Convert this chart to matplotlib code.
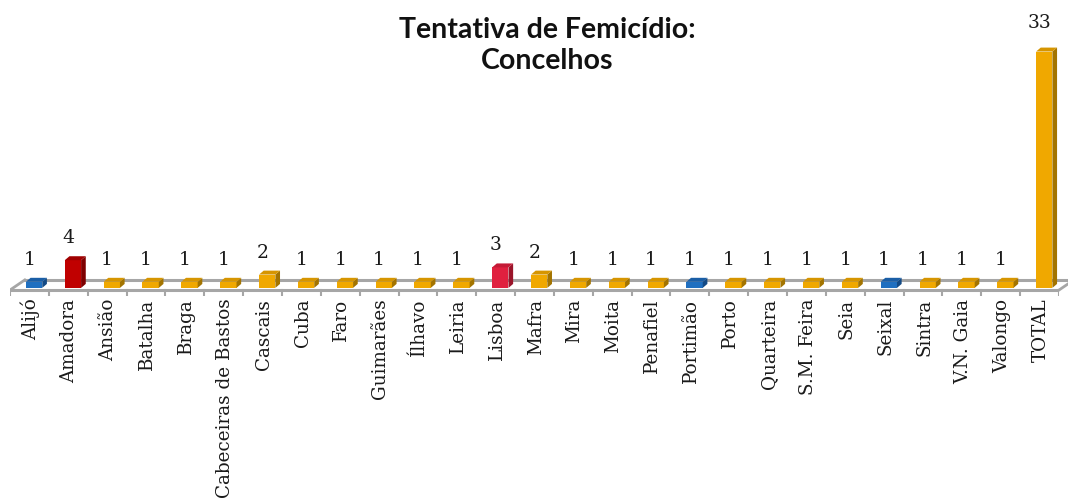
import matplotlib
matplotlib.use("Agg")
import matplotlib.pyplot as plt
from matplotlib.patches import Polygon
import numpy as np

categories = ["Alijó", "Amadora", "Ansião", "Batalha", "Braga", "Cabeceiras de Bastos",
              "Cascais", "Cuba", "Faro", "Guimarães", "Ílhavo", "Leiria", "Lisboa", "Mafra",
              "Mira", "Moita", "Penafiel", "Portimão", "Porto", "Quarteira", "S.M. Feira",
              "Seia", "Seixal", "Sintra", "V.N. Gaia", "Valongo", "TOTAL"]
values = [1, 4, 1, 1, 1, 1, 2, 1, 1, 1, 1, 1, 3, 2, 1, 1, 1, 1, 1, 1, 1, 1, 1, 1, 1, 1, 33]

# color scheme per bar: (front, top, side)
YEL = ("#F0A800", "#D69500", "#A37400")
BLU = ("#1F6FC0", "#1A5EA6", "#134A85")
RED = ("#C00000", "#A00000", "#7E0000")
CRI = ("#E0203F", "#C41A36", "#9A142A")
color_map = {"Alijó": BLU, "Amadora": RED, "Lisboa": CRI, "Portimão": BLU, "Seixal": BLU}
colors = [color_map.get(c, YEL) for c in categories]

W, H = 1068, 499
fig = plt.figure(figsize=(W / 100, H / 100), dpi=100)
ymin, ymax = -1.5, 36.0
ax = fig.add_axes([10 / W, (H - 295.8) / H, (1059 - 10) / W, (295.8 - 26) / H])
ax.set_xlim(-0.5, len(categories) - 0.5)
ax.set_ylim(ymin, ymax)
ax.axis("off")

n = len(categories)
x = np.arange(n)

# floor
front_y, back_y, fdx = -0.7, 0.7, 0.38
floor_col = "#A6A6A6"
ax.plot([-0.5, n - 0.5], [front_y, front_y], color=floor_col, lw=2.2, zorder=1, solid_capstyle="butt")
ax.plot([-0.5 + fdx, n - 0.5 + fdx], [back_y, back_y], color=floor_col, lw=2.2, zorder=1, clip_on=False)
ax.plot([-0.5, -0.5 + fdx], [front_y, back_y], color=floor_col, lw=2.0, zorder=1)
ax.plot([n - 0.5, n - 0.5 + fdx], [front_y, back_y], color=floor_col, lw=2.0, zorder=1, clip_on=False)
for b in np.arange(n + 1) - 0.5:
    ax.plot([b, b], [front_y, -1.45], color=floor_col, lw=1.5, zorder=1)

# bars with pseudo-3D faces
bw, off, dx, dy, base = 0.42, 0.12, 0.12, 0.55, -0.4
for xi, v, (cf, ct, cs) in zip(x, values, colors):
    left = xi + off - bw / 2
    right = xi + off + bw / 2
    top = v - dy
    ax.bar(xi + off, top - base, width=bw, bottom=base, color=cf, zorder=3, linewidth=0)
    ax.add_patch(Polygon([[right, base], [right + dx, base + dy], [right + dx, top + dy], [right, top]],
                         closed=True, facecolor=cs, edgecolor="none", zorder=3))
    ax.add_patch(Polygon([[left, top], [left + dx, top + dy], [right + dx, top + dy], [right, top]],
                         closed=True, facecolor=ct, edgecolor="none", zorder=3))
    ax.annotate(str(v), (xi, v), xytext=(0, 6 + 0.15 * v), textcoords="offset points",
                ha="center", va="bottom", fontsize=13.5, family="DejaVu Serif",
                color="#1a1a1a", annotation_clip=False)

# category labels
for xi, c in zip(x, categories):
    ax.text(xi + 0.03, -1.9, c, rotation=90, ha="center", va="top", fontsize=13.2,
            family="DejaVu Serif", color="#1a1a1a")

fig.text(547 / W, 1 - 45.5 / H, "Tentativa de Femicídio:\nConcelhos", ha="center", va="center",
         fontsize=20.5, fontweight="bold", family="Lato", linespacing=1.24, color="#111111")

fig.savefig("out.png", dpi=100)
